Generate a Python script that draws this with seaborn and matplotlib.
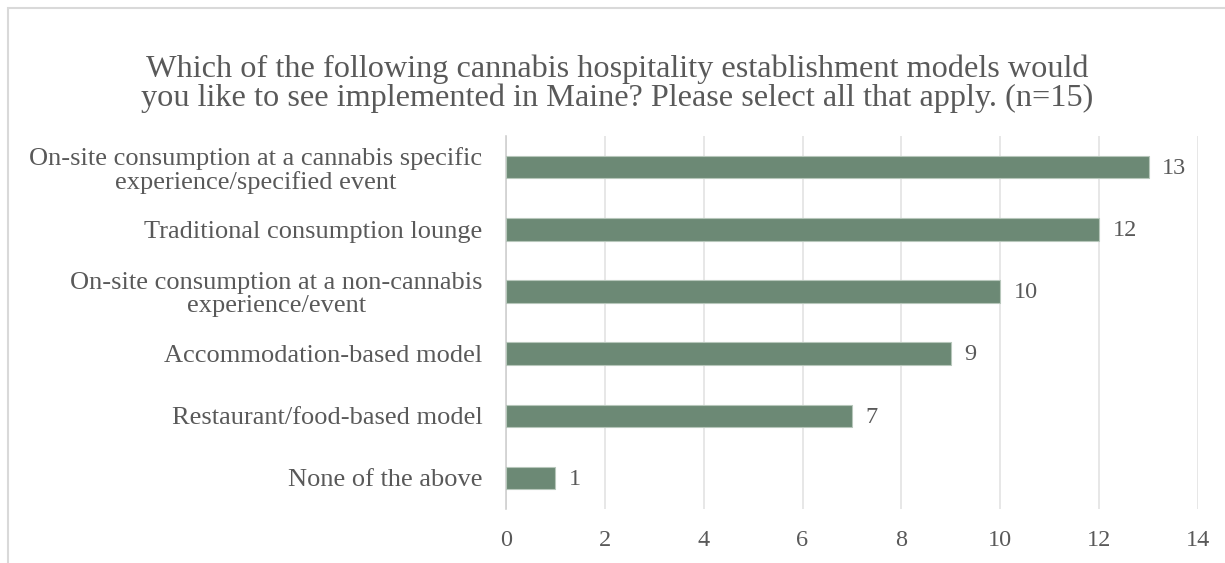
import pandas as pd
import matplotlib.pyplot as plt
import matplotlib.patches as mpatches
import seaborn as sns

categories = [
    "On-site consumption at a cannabis specific\nexperience/specified event",
    "Traditional consumption lounge",
    "On-site consumption at a non-cannabis\nexperience/event",
    "Accommodation-based model",
    "Restaurant/food-based model",
    "None of the above",
]
counts = [13, 12, 10, 9, 7, 1]
x_ticks = [0, 2, 4, 6, 8, 10, 12, 14]

TITLE = ("Which of the following cannabis hospitality establishment models would\n"
         "you like to see implemented in Maine? Please select all that apply. (n=15)")
BAR_COLOR = "#6C8975"
TEXT_COLOR = "#595959"

df = pd.DataFrame({"Model": categories, "Count": counts})

sns.set_style("white")
plt.rcParams['font.family'] = ['Liberation Serif', 'DejaVu Serif']

fig = plt.figure(figsize=(12.25, 5.63), dpi=100)
ax = fig.add_axes([0.413, 0.096, 0.565, 0.662])

sns.barplot(data=df, x="Count", y="Model", orient="h", color=BAR_COLOR,
            width=0.36, saturation=1, ax=ax, zorder=3)

for patch in ax.patches:
    patch.set_edgecolor("#B7C7BB")
    patch.set_linewidth(0.8)

for i, v in enumerate(counts):
    ax.text(v + 0.27, i + 0.02, str(v), va="center", ha="left", fontsize=17.5,
            color=TEXT_COLOR)

ax.set_xlim(0, 14)
ax.set_ylim(5.5, -0.5)
ax.set_xticks(x_ticks)
ax.set_xlabel("")
ax.set_ylabel("")
ax.xaxis.grid(True, color="#E3E3E3", linewidth=1.2, zorder=0)
ax.tick_params(axis="x", length=0, labelsize=17.5, labelcolor=TEXT_COLOR, pad=15)
ax.tick_params(axis="y", length=0, labelsize=19, labelcolor=TEXT_COLOR, pad=17)
for lbl in ax.get_yticklabels():
    lbl.set_multialignment("center")
    lbl.set_linespacing(1.05)

for side in ["top", "right", "bottom"]:
    ax.spines[side].set_visible(False)
ax.spines["left"].set_color("#D0D0D0")
ax.spines["left"].set_linewidth(1.2)

fig.text(0.504, 0.851, TITLE, ha="center", va="center", fontsize=23.2,
         color=TEXT_COLOR, linespacing=0.95)

# chart frame
fig.patches.append(mpatches.Rectangle((8 / 1225, -0.05), 1.1, 1 - 8 / 563 + 0.05,
                                      transform=fig.transFigure, fill=False,
                                      edgecolor="#D9D9D9", linewidth=1.5))

fig.savefig("out.png", dpi=100)
